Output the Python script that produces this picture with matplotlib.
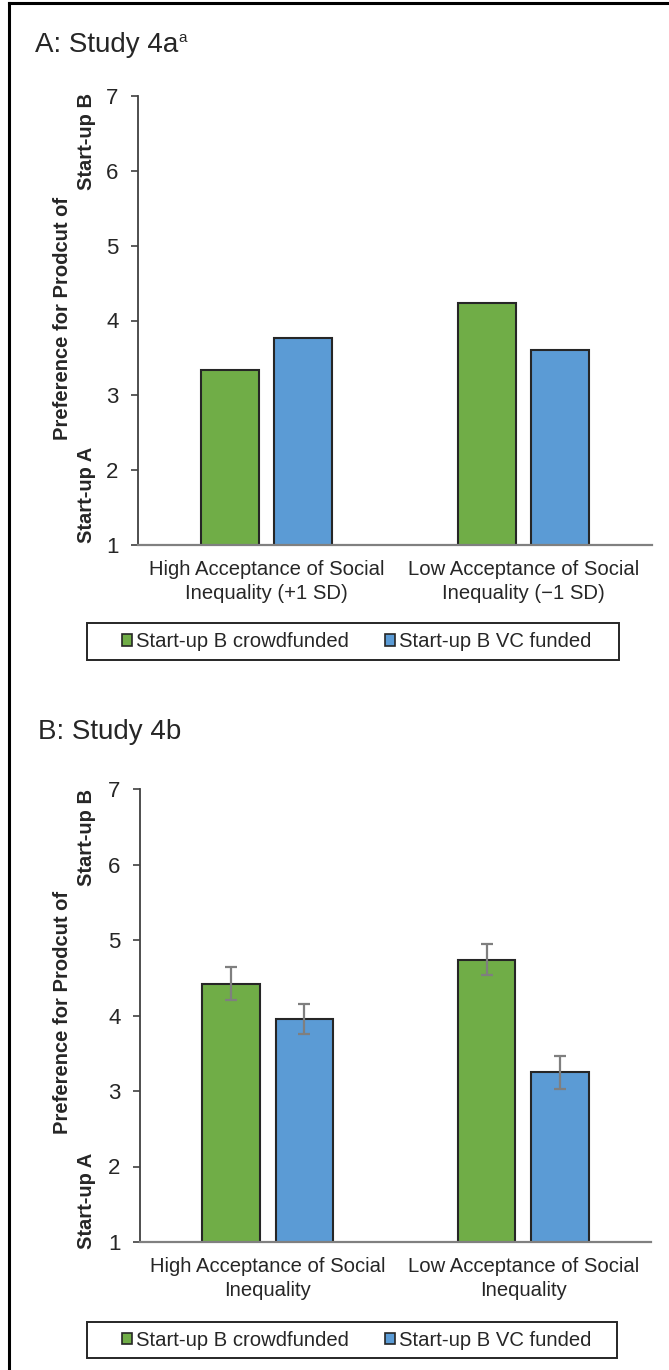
import matplotlib
matplotlib.use('Agg')
from matplotlib import pyplot as plt
from matplotlib.patches import Patch, Rectangle
from matplotlib.lines import Line2D
import numpy as np

plt.rcParams['font.family'] = ['Liberation Sans', 'DejaVu Sans']

# data
groups_a = ['High Acceptance of Social\nInequality (+1 SD)', 'Low Acceptance of Social\nInequality (\u22121 SD)']
crowd_a = [3.34, 4.24]
vc_a = [3.76, 3.60]

groups_b = ['High Acceptance of Social\nInequality', 'Low Acceptance of Social\nInequality']
crowd_b = [4.42, 4.74]
vc_b = [3.95, 3.25]
crowd_b_err = [0.22, 0.21]
vc_b_err = [0.20, 0.22]

series_names = ['Start-up B crowdfunded', 'Start-up B VC funded']
green = '#70AD47'
blue = '#5B9BD5'
edge = '#262626'
txt = '#262626'

W, H = 669, 1370
fig = plt.figure(figsize=(W / 100, H / 100), dpi=100)


def px(x0, y0, x1, y1):
    # pixel box (top-left origin) -> figure fraction rect
    return [x0 / W, 1 - y1 / H, (x1 - x0) / W, (y1 - y0) / H]


def panel(rect, groups, crowd, vc, crowd_err=None, vc_err=None):
    ax = fig.add_axes(rect)
    x = np.arange(len(groups))
    off, w = 0.143, 0.225
    ekw = dict(ecolor='#7f7f7f', elinewidth=1.6, capsize=4.5, capthick=1.6)
    ax.bar(x - off, crowd, w, color=green, edgecolor=edge, linewidth=1.5,
           yerr=crowd_err, error_kw=ekw, zorder=2)
    ax.bar(x + off, vc, w, color=blue, edgecolor=edge, linewidth=1.5,
           yerr=vc_err, error_kw=ekw, zorder=2)
    ax.set_xlim(-0.5, len(groups) - 0.5)
    ax.set_ylim(1, 7)
    ax.set_yticks(range(1, 8))
    ax.set_xticks(x)
    ax.set_xticklabels(groups, fontsize=14.6, color=txt, linespacing=1.3)
    ax.tick_params(axis='x', length=0, pad=11)
    ax.tick_params(axis='y', length=5, width=1.2, color='#404040', labelsize=16,
                   labelcolor=txt, pad=9)
    for s in ['top', 'right']:
        ax.spines[s].set_visible(False)
    ax.spines['left'].set_color('#404040')
    ax.spines['left'].set_linewidth(1.3)
    ax.spines['bottom'].set_color('#808080')
    ax.spines['bottom'].set_linewidth(1.6)
    ax.spines['bottom'].set_zorder(3)
    return ax


axA = panel(px(138, 96, 652, 545), groups_a, crowd_a, vc_a)
axB = panel(px(140, 789, 651, 1242), groups_b, crowd_b, vc_b, crowd_b_err, vc_b_err)

# titles
tA = fig.text(35 / W, 1 - 45 / H, 'A: Study 4a', fontsize=20, color=txt, va='center', ha='left')
fig.canvas.draw()
bb = tA.get_window_extent()
fig.text(bb.x1 / W + 0.0005, 1 - 38 / H, 'a', fontsize=11, color=txt, va='center', ha='left')
fig.text(38 / W, 1 - 732 / H, 'B: Study 4b', fontsize=20, color=txt, va='center', ha='left')

# y labels
for cy_pref, cy_b, cy_a in [(318, 141, 495), (1012, 838, 1201)]:
    fig.text(63 / W, 1 - cy_pref / H, 'Preference for Prodcut of', rotation=90, fontsize=14.5,
             fontweight='bold', color=txt, ha='center', va='center')
    fig.text(87 / W, 1 - cy_b / H, 'Start-up B', rotation=90, fontsize=14.5,
             fontweight='bold', color=txt, ha='center', va='center')
    fig.text(87 / W, 1 - cy_a / H, 'Start-up A', rotation=90, fontsize=14.5,
             fontweight='bold', color=txt, ha='center', va='center')

# legends: frame drawn as a rectangle, entries placed inside
handles = [Patch(facecolor=green, edgecolor=edge, linewidth=1.2),
           Patch(facecolor=blue, edgecolor=edge, linewidth=1.2)]
for (bx0, by0, bx1, by1) in [(87, 623, 619, 660), (87, 1322, 617, 1358)]:
    fig.add_artist(Rectangle((bx0 / W, 1 - by1 / H), (bx1 - bx0) / W, (by1 - by0) / H,
                             transform=fig.transFigure, fill=False, edgecolor='#262626',
                             linewidth=1.4))
    leg = fig.legend(handles, series_names, loc='center left',
                     bbox_to_anchor=(122 / W, 1 - (by0 + by1) / 2 / H),
                     ncol=2, fontsize=14.6, frameon=False,
                     handlelength=0.5, handleheight=0.5, handletextpad=0.2,
                     columnspacing=1.75, borderpad=0, borderaxespad=0)
    for t in leg.get_texts():
        t.set_color(txt)

# outer frame of the figure panel
fig.add_artist(Line2D([9 / W, 9 / W], [0, 1 - 3 / H], color='black', linewidth=2.2))
fig.add_artist(Line2D([9 / W, 1], [1 - 3 / H, 1 - 3 / H], color='black', linewidth=2.2))

fig.savefig('out.png', dpi=100)
